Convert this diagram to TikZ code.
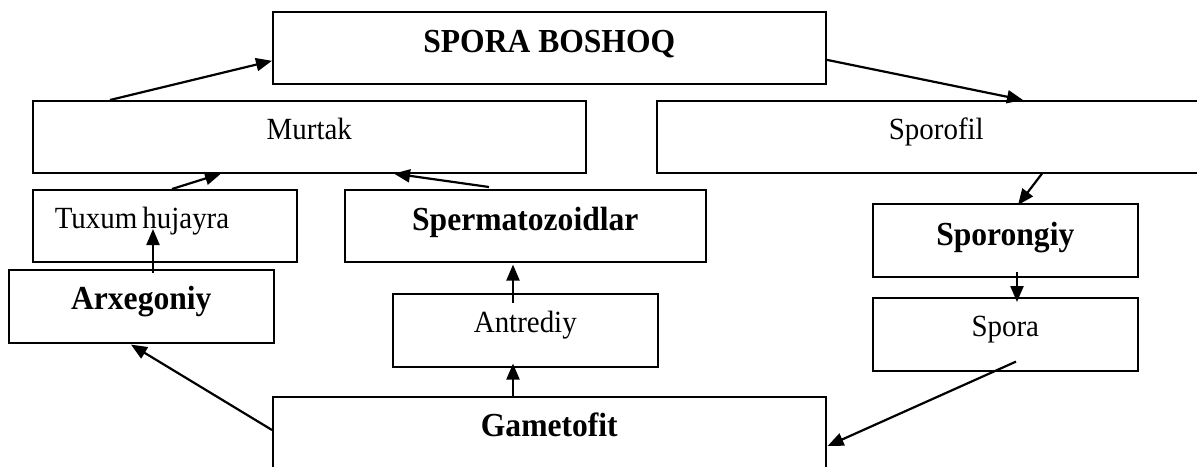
\documentclass[tikz,border=0pt]{standalone}
\usepackage{fontspec}
\setmainfont[FakeStretch=0.94]{Liberation Serif}
\usetikzlibrary{calc,arrows.meta}
\tikzset{
  box/.style={draw=black, line width=1.6pt, rectangle, inner sep=0pt, anchor=north west,
              font=\fontsize{30.8}{36}\selectfont, text height=13pt, text depth=8pt},
  bbox/.style={box, font=\fontsize{33.6}{38}\selectfont\bfseries, text height=16pt, text depth=6pt},
  arr/.style={line width=2.2pt, -{Triangle[length=16pt,width=13pt]}},
}
\begin{document}
\begin{tikzpicture}[x=1pt,y=-1pt]
\useasboundingbox (0,0) rectangle (1197,466);
\fill[white] (0,0) rectangle (1197,466);
% boxes
\node[bbox, minimum width=553pt, minimum height=72pt] (spora) at (272,11) {SPORA BOSHOQ};
\node[box, minimum width=553pt, minimum height=72pt] (murtak) at (32,100) {Murtak};
\node[box, minimum width=559pt, minimum height=72pt] (sporofil) at (656,100) {Sporofil};
\node[box, minimum width=264pt, minimum height=72pt, text width=220pt, align=left] (tuxum) at (32,189) {Tuxum\hspace{5pt}hujayra};
\node[bbox, minimum width=361pt, minimum height=72pt] (sperm) at (344,189) {Spermatozoidlar};
\node[bbox, minimum width=265pt, minimum height=73pt] (sporongiy) at (872,203) {Sporongiy};
\node[bbox, minimum width=265pt, minimum height=73pt, text height=14pt, text depth=8pt] (arx) at (8,269) {Arxegoniy};
\node[box, minimum width=265pt, minimum height=73pt] (antr) at (392,293) {Antrediy};
\node[box, minimum width=265pt, minimum height=73pt] (sporabox) at (872,297) {Spora};
\node[bbox, minimum width=553pt, minimum height=74pt, text height=14pt, text depth=8pt] (game) at (272,396) {Gametofit};
% arrows
\draw[arr] ($(murtak.north west)+(78,0)$) -- ($(spora.west)+(0,13)$);
\draw[arr] ($(spora.east)+(0,12)$) -- ($(sporofil.north west)+(367,0)$);
\draw[arr] ($(sporofil.south west)+(386,0)$) -- ($(sporongiy.north west)+(146,2)$);
\draw[arr] ($(sporongiy.south west)+(145,-6)$) -- ($(sporabox.north west)+(145,5)$);
\draw[arr] ($(sporabox.south west)+(144,-10)$) -- ($(game.north east)+(1,50)$);
\draw[arr] ($(game.north west)+(241,0)$) -- ($(antr.south west)+(121,-4)$);
\draw[arr] ($(antr.north west)+(121,10)$) -- ($(sperm.south west)+(169,2)$);
\draw[arr] ($(game.north west)+(0,34)$) -- ($(arx.south west)+(123,1)$);
\draw[arr] ($(arx.north west)+(145,4)$) -- ($(tuxum.north west)+(121,40)$);
\draw[arr] ($(tuxum.north west)+(140,0)$) -- ($(murtak.south west)+(189,0)$);
\draw[arr] ($(sperm.north west)+(145,-2)$) -- ($(murtak.south west)+(362,0)$);
\end{tikzpicture}
\end{document}
